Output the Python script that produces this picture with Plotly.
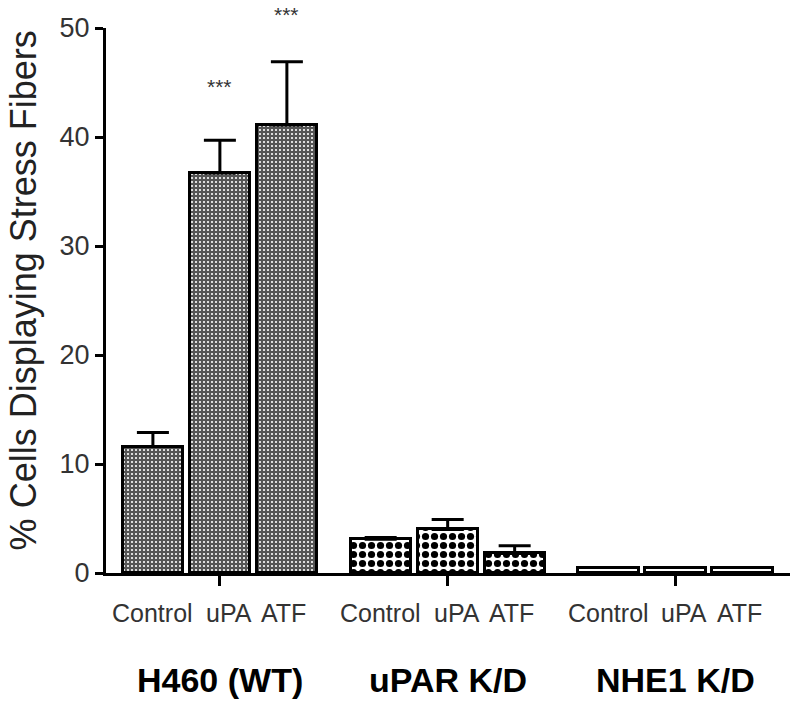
import plotly.graph_objects as go

groups = ["H460 (WT)", "uPAR K/D", "NHE1 K/D"]
treatments = ["Control", "uPA", "ATF"]

h460_vals = [11.6, 36.7, 41.1]
h460_err = [1.3, 3.0, 5.8]
upar_vals = [3.1, 4.0, 1.8]
upar_err = [0.15, 0.9, 0.7]
nhe1_vals = [0.5, 0.5, 0.5]
nhe1_err = [0.0, 0.0, 0.0]

# significance marks above the H460 bars
stars = ["", "***", "***"]
star_y = [None, 44.6, 51.2]

Y_MAX = 50
GROUP_GAP = 3.4  # group pitch in bar units
BAR_W = 0.9
# the treatment labels aren't perfectly centred under their bars
LABEL_SHIFT = [0, 9, -3]

FONT = "Liberation Sans, Arial, sans-serif"


def xs(g):
    return [g * GROUP_GAP + i - 1 for i in range(len(treatments))]


fig = go.Figure()

series = [
    (h460_vals, h460_err, dict(shape=".", bgcolor="#555555", fgcolor="white",
                               size=4, solidity=0.22, fillmode="replace")),
    (upar_vals, upar_err, dict(shape=".", bgcolor="white", fgcolor="black",
                               size=9, solidity=0.5, fillmode="replace")),
    (nhe1_vals, nhe1_err, dict(shape="", bgcolor="white")),
]

for g, (vals, err, pat) in enumerate(series):
    fig.add_trace(go.Bar(
        x=xs(g), y=vals, width=BAR_W,
        marker=dict(color="white" if g == 2 else pat.get("bgcolor"),
                    line=dict(color="black", width=3), pattern=pat),
        error_y=dict(type="data", symmetric=False, array=err,
                     arrayminus=[0] * len(err), width=16, thickness=3,
                     color="black", visible=any(e > 0 for e in err)),
        showlegend=False,
    ))

# stars may sit above the axis top, so place them in paper coords
for i, s in enumerate(stars):
    if s:
        fig.add_annotation(x=xs(0)[i], y=star_y[i] / Y_MAX, xref="x", yref="paper",
                           text=s, showarrow=False,
                           font=dict(size=21, color="#333", family=FONT),
                           yanchor="middle")

for g, name in enumerate(groups):
    for i, t in enumerate(treatments):
        fig.add_annotation(x=xs(g)[i], y=-0.073, xref="x", yref="paper",
                           text=t, showarrow=False, xshift=LABEL_SHIFT[i],
                           font=dict(size=25, color="#333", family=FONT),
                           yanchor="middle")
    fig.add_annotation(x=g * GROUP_GAP, y=-0.196, xref="x", yref="paper",
                       text=f"<b>{name}</b>", showarrow=False,
                       font=dict(size=34, color="black", family=FONT),
                       yanchor="middle")

fig.add_annotation(x=-0.121, y=0.519, xref="paper", yref="paper",
                   text="% Cells Displaying Stress Fibers", textangle=-90,
                   showarrow=False, xanchor="center", yanchor="middle",
                   font=dict(size=36, color="#222", family=FONT))

fig.update_xaxes(
    range=[-1.7, 8.51], showgrid=False, zeroline=False, automargin=False,
    showline=True, linecolor="black", linewidth=3,
    tickmode="array", tickvals=[g * GROUP_GAP for g in range(len(groups))],
    showticklabels=False, ticks="outside", ticklen=10, tickwidth=3,
    tickcolor="black",
)
fig.update_yaxes(
    range=[0, Y_MAX], showgrid=False, zeroline=False, automargin=False,
    showline=True, linecolor="black", linewidth=3,
    tickvals=[0, 10, 20, 30, 40, 50], ticks="outside", ticklen=8,
    tickwidth=3, tickcolor="black",
    tickfont=dict(size=27, color="#333", family=FONT),
)

# the page body adds an 8px offset, so margins are shifted to compensate
fig.update_layout(
    width=800, height=710,
    margin=dict(l=98, r=18, t=20, b=145),
    plot_bgcolor="white", paper_bgcolor="white",
    bargap=0,
)

fig.write_html("out.html")
